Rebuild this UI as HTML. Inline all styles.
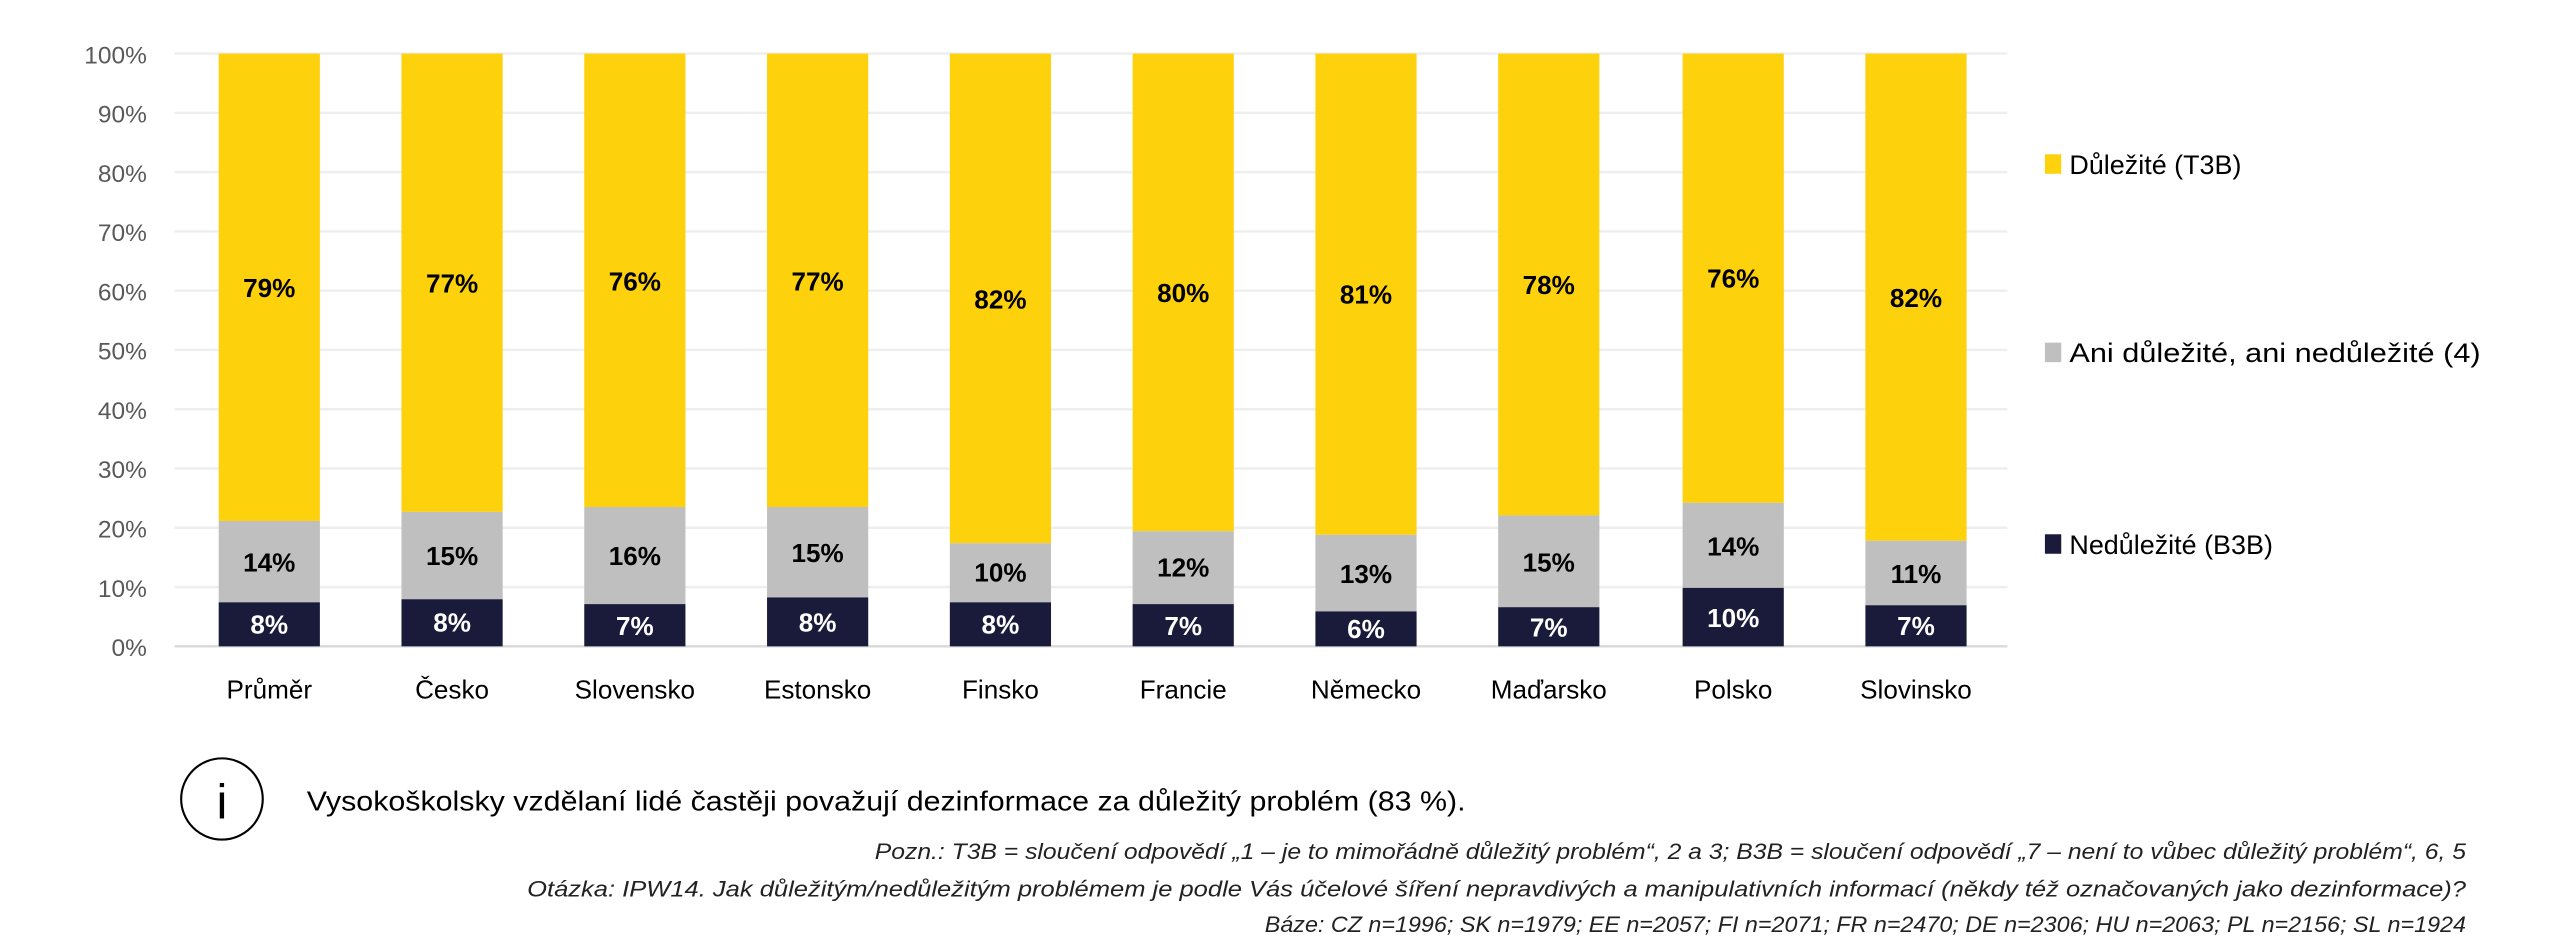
<!DOCTYPE html>
<html><head><meta charset="utf-8"><style>
html,body{margin:0;padding:0;background:#fff;}
svg{display:block;}
text{font-family:"Liberation Sans",sans-serif;}
</style></head><body>
<svg width="2559" height="950" viewBox="0 0 1568 585" preserveAspectRatio="none" xmlns="http://www.w3.org/2000/svg">
<g stroke="#eeeeee" stroke-width="1.5">
<line x1="107" x2="1230" y1="33" y2="33"/><line x1="107" x2="1230" y1="69.5" y2="69.5"/>
<line x1="107" x2="1230" y1="106" y2="106"/><line x1="107" x2="1230" y1="142.5" y2="142.5"/>
<line x1="107" x2="1230" y1="179" y2="179"/><line x1="107" x2="1230" y1="215.5" y2="215.5"/>
<line x1="107" x2="1230" y1="252" y2="252"/><line x1="107" x2="1230" y1="288.5" y2="288.5"/>
<line x1="107" x2="1230" y1="325" y2="325"/><line x1="107" x2="1230" y1="361.5" y2="361.5"/>
</g>
<line x1="107" x2="1230" y1="398" y2="398" stroke="#d9d9d9" stroke-width="1.5"/>
<g font-size="15" fill="#595959" text-anchor="end">
<text x="90" y="39">100%</text><text x="90" y="75.5">90%</text><text x="90" y="112">80%</text>
<text x="90" y="148.5">70%</text><text x="90" y="185">60%</text><text x="90" y="221.5">50%</text>
<text x="90" y="258">40%</text><text x="90" y="294.5">30%</text><text x="90" y="331">20%</text>
<text x="90" y="367.5">10%</text><text x="90" y="404">0%</text>
</g>
<g>
<rect x="134" y="33" width="62" height="287.8" fill="#fdd10b"/><rect x="134" y="320.8" width="62" height="50.1" fill="#bfbfbf"/><rect x="134" y="370.9" width="62" height="27.1" fill="#1a1a3a"/>
<rect x="246" y="33" width="62" height="282.2" fill="#fdd10b"/><rect x="246" y="315.2" width="62" height="53.8" fill="#bfbfbf"/><rect x="246" y="369" width="62" height="29" fill="#1a1a3a"/>
<rect x="358" y="33" width="62" height="279.2" fill="#fdd10b"/><rect x="358" y="312.2" width="62" height="59.8" fill="#bfbfbf"/><rect x="358" y="372" width="62" height="26" fill="#1a1a3a"/>
<rect x="470" y="33" width="62" height="279.2" fill="#fdd10b"/><rect x="470" y="312.2" width="62" height="55.7" fill="#bfbfbf"/><rect x="470" y="367.9" width="62" height="30.1" fill="#1a1a3a"/>
<rect x="582" y="33" width="62" height="301.5" fill="#fdd10b"/><rect x="582" y="334.5" width="62" height="36.4" fill="#bfbfbf"/><rect x="582" y="370.9" width="62" height="27.1" fill="#1a1a3a"/>
<rect x="694" y="33" width="62" height="294.1" fill="#fdd10b"/><rect x="694" y="327.1" width="62" height="44.9" fill="#bfbfbf"/><rect x="694" y="372" width="62" height="26" fill="#1a1a3a"/>
<rect x="806" y="33" width="62" height="296.3" fill="#fdd10b"/><rect x="806" y="329.3" width="62" height="47.2" fill="#bfbfbf"/><rect x="806" y="376.5" width="62" height="21.5" fill="#1a1a3a"/>
<rect x="918" y="33" width="62" height="284.4" fill="#fdd10b"/><rect x="918" y="317.4" width="62" height="56.5" fill="#bfbfbf"/><rect x="918" y="373.9" width="62" height="24.1" fill="#1a1a3a"/>
<rect x="1031" y="33" width="62" height="276.6" fill="#fdd10b"/><rect x="1031" y="309.6" width="62" height="52.4" fill="#bfbfbf"/><rect x="1031" y="362" width="62" height="36" fill="#1a1a3a"/>
<rect x="1143" y="33" width="62" height="300" fill="#fdd10b"/><rect x="1143" y="333" width="62" height="39.7" fill="#bfbfbf"/><rect x="1143" y="372.7" width="62" height="25.3" fill="#1a1a3a"/>
</g>
<g font-size="16" font-weight="bold" text-anchor="middle" fill="#000">
<text x="165" y="183">79%</text><text x="277" y="180">77%</text><text x="389" y="179">76%</text><text x="501" y="179">77%</text><text x="613" y="190">82%</text>
<text x="725" y="186">80%</text><text x="837" y="187">81%</text><text x="949" y="181">78%</text><text x="1062" y="177">76%</text><text x="1174" y="189">82%</text>
<text x="165" y="352">14%</text><text x="277" y="348">15%</text><text x="389" y="348">16%</text><text x="501" y="346">15%</text><text x="613" y="358">10%</text>
<text x="725" y="355">12%</text><text x="837" y="359">13%</text><text x="949" y="352">15%</text><text x="1062" y="342">14%</text><text x="1174" y="359">11%</text>
</g>
<g font-size="16" font-weight="bold" text-anchor="middle" fill="#fff">
<text x="165" y="390">8%</text><text x="277" y="389">8%</text><text x="389" y="391">7%</text><text x="501" y="389">8%</text><text x="613" y="390">8%</text>
<text x="725" y="391">7%</text><text x="837" y="393">6%</text><text x="949" y="392">7%</text><text x="1062" y="386">10%</text><text x="1174" y="391">7%</text>
</g>
<g font-size="16" fill="#000" text-anchor="middle">
<text x="165" y="430">Průměr</text><text x="277" y="430">Česko</text><text x="389" y="430">Slovensko</text>
<text x="501" y="430">Estonsko</text><text x="613" y="430">Finsko</text><text x="725" y="430">Francie</text>
<text x="837" y="430">Německo</text><text x="949" y="430">Maďarsko</text><text x="1062" y="430">Polsko</text>
<text x="1174" y="430">Slovinsko</text>
</g>
<rect x="1253" y="95" width="10" height="12" fill="#fdd10b"/>
<text x="1268" y="107" font-size="16.5" fill="#000">Důležité (T3B)</text>
<rect x="1253" y="211" width="10" height="12" fill="#bfbfbf"/>
<text x="1268" y="223" font-size="16.5" fill="#000" textLength="252" lengthAdjust="spacingAndGlyphs">Ani důležité, ani nedůležité (4)</text>
<rect x="1253" y="329" width="10" height="12" fill="#1a1a3a"/>
<text x="1268" y="341" font-size="16.5" fill="#000">Nedůležité (B3B)</text>
<circle cx="136" cy="492" r="25" fill="none" stroke="#000" stroke-width="1.3"/>
<text x="136" y="504" font-size="30" text-anchor="middle" fill="#000" font-family="Liberation Serif">i</text>
<text x="188" y="499" font-size="17" fill="#000" textLength="710" lengthAdjust="spacingAndGlyphs">Vysokoškolsky vzdělaní lidé častěji považují dezinformace za důležitý problém (83 %).</text>
<g font-size="13.5" fill="#222" font-style="italic">
<text x="536" y="529" textLength="975" lengthAdjust="spacingAndGlyphs">Pozn.: T3B = sloučení odpovědí „1 – je to mimořádně důležitý problém“, 2 a 3; B3B = sloučení odpovědí „7 – není to vůbec důležitý problém“, 6, 5</text>
<text x="323" y="552" textLength="1188" lengthAdjust="spacingAndGlyphs">Otázka: IPW14. Jak důležitým/nedůležitým problémem je podle Vás účelové šíření nepravdivých a manipulativních informací (někdy též označovaných jako dezinformace)?</text>
<text x="775" y="574" textLength="736" lengthAdjust="spacingAndGlyphs">Báze: CZ n=1996; SK n=1979; EE n=2057; FI n=2071; FR n=2470; DE n=2306; HU n=2063; PL n=2156; SL n=1924</text>
</g>
</svg>
</body></html>
